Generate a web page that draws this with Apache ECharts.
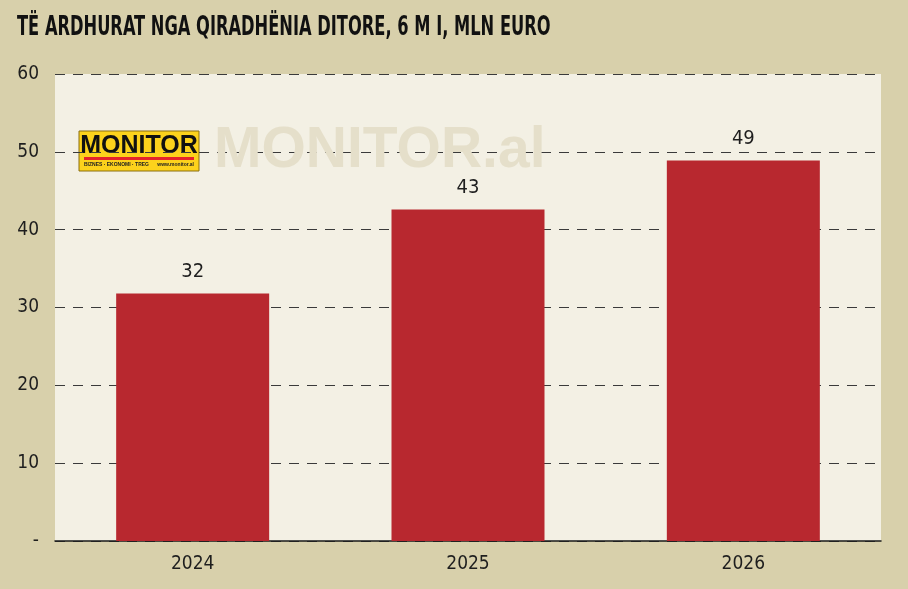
<!DOCTYPE html>
<html>
<head>
<meta charset="utf-8">
<script src="https://cdn.jsdelivr.net/npm/echarts@6/dist/echarts.min.js"></script>
<style>
  html, body { margin: 0; padding: 0; background: #d8d0ab; }
  #chart { width: 908px; height: 589px; }
</style>
</head>
<body>
<div id="chart"></div>
<script>
// te dhenat
const years = ['2024', '2025', '2026']
const income = [31.8, 42.6, 48.9]
const yTicks = [0, 10, 20, 30, 40, 50, 60]
const titleText = 'TË ARDHURAT NGA QIRADHËNIA DITORE, 6 M I, MLN EURO'

const mycharts = echarts.init(document.querySelector('#chart'))
const font = '"DejaVu Sans Condensed", "Liberation Sans Narrow", sans-serif'

const option = {
  backgroundColor: '#d8d0ab',
  animation: false,
  grid: {
    left: 55, right: 27, top: 74, bottom: 48,
    show: true,
    backgroundColor: '#f3f0e4',
    borderWidth: 0
  },
  xAxis: {
    type: 'category',
    data: years,
    axisTick: { show: false },
    axisLine: { lineStyle: { color: '#1a1a1a', width: 1.5 } },
    axisLabel: { color: '#1e1e1e', fontFamily: font, fontSize: 19, margin: 14 }
  },
  yAxis: {
    type: 'value',
    min: 0,
    max: 60,
    interval: 10,
    axisLine: { show: false },
    axisTick: { show: false },
    axisLabel: {
      color: '#1e1e1e',
      fontFamily: font,
      fontSize: 19,
      margin: 16,
      formatter: v => (yTicks.indexOf(v) === 0 ? '-' : String(v))
    },
    splitLine: { lineStyle: { color: '#3a3a3a', type: [10, 8], width: 1 } }
  },
  graphic: [
    // titulli, i ngushtuar
    {
      type: 'text', x: 17, y: 14, scaleX: 0.67, z: 20,
      style: {
        text: titleText,
        fill: '#111',
        textVerticalAlign: 'top',
        font: 'bold 27px "DejaVu Sans Condensed", sans-serif'
      }
    },
    // watermark
    {
      type: 'text', x: 214, y: 123, z: 1,
      style: {
        text: 'MONITOR.al',
        fill: '#e5dfca',
        font: 'bold 57px "Liberation Sans", Arial, sans-serif'
      }
    },
    // logo
    {
      type: 'group', x: 79, y: 131, z: 10,
      children: [
        { type: 'rect', shape: { x: 0, y: 0, width: 120, height: 40 }, style: { fill: '#fcd21c', stroke: '#8a6f10', lineWidth: 1 } },
        { type: 'text', x: 60, y: 3, style: { text: 'MONITOR', fill: '#111', align: 'center', font: 'bold 25px "Liberation Sans", Arial, sans-serif' } },
        { type: 'rect', shape: { x: 5, y: 26, width: 110, height: 3 }, style: { fill: '#e5242b' } },
        { type: 'text', x: 5, y: 31, style: { text: 'BIZNES · EKONOMI · TREG', fill: '#222', font: 'bold 5px sans-serif' } },
        { type: 'text', x: 115, y: 31, style: { text: 'www.monitor.al', fill: '#222', align: 'right', font: 'bold 5px sans-serif' } }
      ]
    }
  ],
  series: [
    {
      type: 'bar',
      data: income,
      barWidth: 153,
      z: 5,
      itemStyle: { color: '#b8282f' },
      label: {
        show: true,
        position: 'top',
        distance: 12,
        color: '#1e1e1e',
        fontFamily: font,
        fontSize: 20,
        formatter: p => Math.round(p.value)
      }
    }
  ]
}
mycharts.setOption(option)
</script>
</body>
</html>
